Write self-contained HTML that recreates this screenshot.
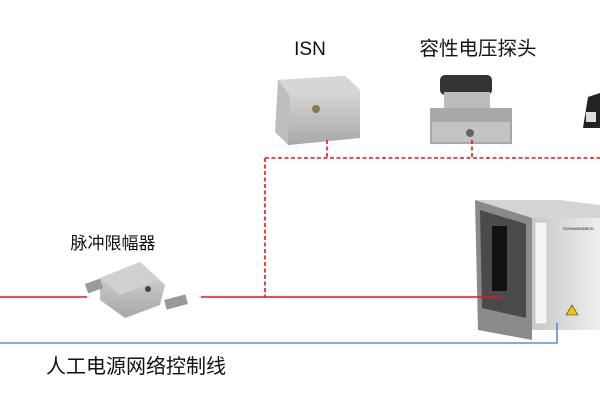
<!DOCTYPE html>
<html><head><meta charset="utf-8"><style>
html,body{margin:0;padding:0;background:#fff;}
svg{display:block}
text{font-family:"Liberation Sans","Noto Sans CJK SC",sans-serif;fill:#111;}
</style></head><body>
<svg width="600" height="400" viewBox="0 0 600 400" xmlns="http://www.w3.org/2000/svg">
<defs>
<linearGradient id="g1" x1="0" y1="0" x2="0" y2="1"><stop offset="0" stop-color="#d8d8d8"/><stop offset="1" stop-color="#a8a8a8"/></linearGradient>
<linearGradient id="g2" x1="0" y1="0" x2="1" y2="0"><stop offset="0" stop-color="#c8c8c8"/><stop offset="1" stop-color="#eeeeee"/></linearGradient>
</defs>
<!-- labels -->
<text x="310" y="55" font-size="19" text-anchor="middle">ISN</text>
<text x="478" y="55" font-size="19.5" text-anchor="middle">容性电压探头</text>
<text x="113" y="249" font-size="17" text-anchor="middle">脉冲限幅器</text>
<text x="46" y="373" font-size="20">人工电源网络控制线</text>

<!-- ISN box -->
<polygon points="278,80 345,76 360,90 360,138 288,145 275,132" fill="#bdbdbd"/>
<polygon points="278,80 345,76 360,90 290,96" fill="#d6d6d6"/>
<polygon points="290,96 360,90 360,138 288,145" fill="url(#g1)"/>
<circle cx="316" cy="109" r="4" fill="#8a7a50"/>
<!-- probe -->
<rect x="440" y="75" width="52" height="20" rx="5" fill="#333"/>
<rect x="444" y="92" width="46" height="18" fill="#bbb"/>
<rect x="430" y="108" width="82" height="36" fill="#a9a9a9"/>
<rect x="432" y="122" width="78" height="20" fill="#c4c4c4"/>
<circle cx="470" cy="133" r="4" fill="#666"/>
<!-- small black device -->
<polygon points="588,97 600,93 600,128 583,128" fill="#222"/>
<rect x="586" y="112" width="10" height="10" fill="#ddd"/>

<!-- limiter -->
<polygon points="100,278 140,262 165,285 160,305 125,318 100,300" fill="url(#g1)"/>
<polygon points="100,278 140,262 160,280 120,295" fill="#d0d0d0"/>
<rect x="86" y="281" width="16" height="10" fill="#9a9a9a" transform="rotate(-20 94 286)"/>
<rect x="165" y="297" width="22" height="10" fill="#9a9a9a" transform="rotate(-15 176 302)"/>
<circle cx="148" cy="289" r="3" fill="#444"/>

<!-- rack -->
<polygon points="475,200 560,200 600,205 600,218 532,218" fill="#d4d4d4"/>
<polygon points="475,200 532,218 532,340 478,330" fill="#8a8a8a"/>
<polygon points="480,210 526,224 526,318 482,308" fill="#4a4a4a"/>
<rect x="492" y="226" width="15" height="65" fill="#111"/>
<rect x="532" y="218" width="68" height="112" fill="url(#g2)"/>
<rect x="535" y="222" width="12" height="102" fill="#f4f4f4" stroke="#bbb" stroke-width="0.7"/>
<polygon points="572,305 578,315 566,315" fill="#f3c400" stroke="#333" stroke-width="0.6"/>
<text x="563" y="230" font-size="4" fill="#555">SCHWARZBECK</text>

<!-- connectors -->
<g stroke="#e8141c" stroke-width="1.6" fill="none">
<line x1="0" y1="297" x2="87" y2="297"/>
<line x1="201" y1="297" x2="502" y2="297"/>
</g>
<g stroke="#e8141c" stroke-width="1.6" fill="none" stroke-dasharray="4,2.5">
<line x1="265" y1="158" x2="265" y2="297"/>
<line x1="265" y1="158" x2="600" y2="158"/>
<line x1="327" y1="140" x2="327" y2="158"/>
<line x1="472" y1="140" x2="472" y2="158"/>
</g>
<g stroke="#5b8fd0" stroke-width="1.6" fill="none">
<polyline points="0,343 557,343 557,323"/>
</g>
</svg>
</body></html>
